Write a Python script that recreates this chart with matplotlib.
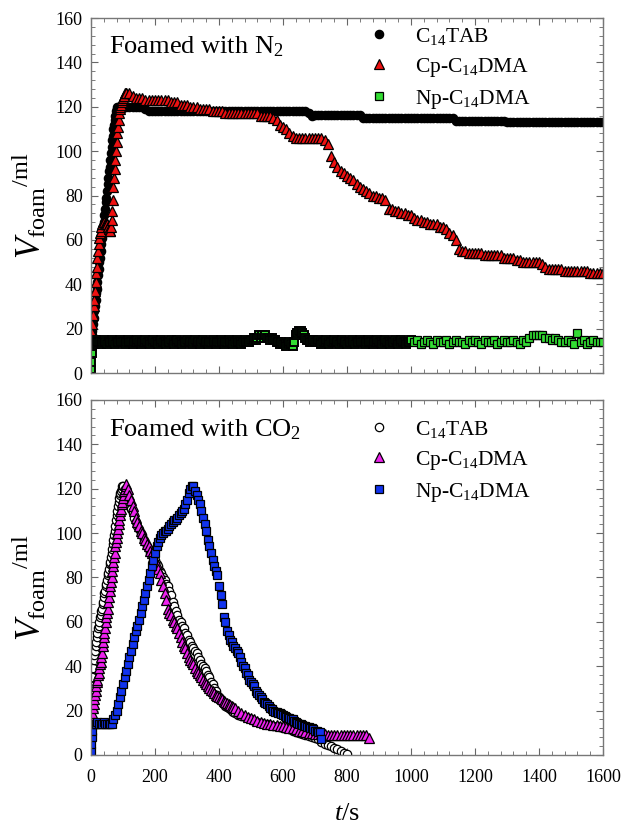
import matplotlib
matplotlib.use('Agg')
import matplotlib.pyplot as plt
import numpy as np

plt.rcParams.update({'font.family': 'Liberation Serif',
                     'mathtext.fontset': 'custom',
                     'mathtext.rm': 'Liberation Serif',
                     'mathtext.it': 'Liberation Serif:italic'})

# ---- Foamed with N2 ----
c14tab_n2_t = np.concatenate([np.arange(0, 90, 2), np.arange(90, 1601, 10)])
c14tab_n2 = ([14, 17, 19, 22, 25, 28, 30, 33, 36, 38,
              41, 44, 47, 50, 52, 55, 58, 61, 64, 66,
              68, 71, 74, 77, 79, 82, 85, 88, 91, 93,
              96, 99, 102, 105, 107, 110, 112, 114, 116, 118,
              119, 120, 120, 120, 120]
             + [120] * 8 + [119] + [118] * 50 + [117, 116]
             + [116.5] * 15
             + [115] * 29
             + [113.5] * 16
             + [113] * 31)

cp_n2_t = np.concatenate([np.arange(0, 110, 2), np.arange(110, 1601, 10)])
cp_n2 = [15, 18, 22, 26, 30, 33, 37, 41, 45, 48,
         52, 55, 58, 61, 63, 64, 66, 67, 68, 68,
         68, 68, 67, 67, 67, 67, 66, 66, 65, 64,
         64, 66, 69, 73, 78, 84, 88, 92, 96, 100,
         104, 108, 111, 114, 117, 119, 120, 121, 122, 123,
         124, 125, 125, 126, 126,
         126, 126, 125, 124, 124, 124, 123, 123, 123,
         123, 123, 123, 123, 123, 122, 122, 122, 121, 121,
         121, 120, 120, 120, 119, 119, 119, 119, 118, 118,
         118, 118, 117, 117, 117, 117, 117, 117, 117, 117,
         117, 117, 117, 116, 116, 116, 116, 115, 114, 112,
         111, 110, 108, 107, 106, 106, 106, 106, 106, 106,
         106, 106, 106, 105, 103, 98, 95, 93, 91, 90,
         89, 88, 87, 85, 84, 83, 82, 81, 80, 80,
         79, 79, 78, 74, 74, 73, 73, 72, 72, 71,
         71, 70, 69, 69, 68, 68, 67, 67, 67, 66,
         66, 65, 63, 62, 60, 56, 55, 55, 54, 54,
         54, 54, 54, 53, 53, 53, 53, 53, 53, 52,
         52, 52, 52, 51, 51, 50, 50, 50, 50, 50,
         50, 49, 48, 47, 47, 47, 47, 47, 46, 46,
         46, 46, 46, 46, 46, 46, 45, 45, 45, 45,
         45]

np_n2_t = np.concatenate([[0, 1, 2, 3], np.arange(5, 1001, 5), np.arange(1010, 1601, 10)])
np_n2 = ([2, 5, 9, 12]
         + [14, 13, 15, 14, 14, 13, 14, 15, 14, 13, 14, 14, 15, 14, 13, 14, 14, 15, 14, 14]
         + [13, 14, 15, 14, 14, 13, 14, 14, 15, 14, 13, 14, 14, 15, 14, 14, 13, 14, 15, 14]
         + [14, 13, 14, 15, 14, 14, 13, 14, 14, 15, 14, 13, 14, 15, 14, 14, 13, 14, 14, 15]
         + [14, 14, 13, 14, 15, 14, 14, 13, 14, 15, 14, 14, 13, 14, 14, 15, 14, 13, 14, 14]
         + [15, 14, 13, 14, 14, 15, 14, 14, 13, 14, 15, 14, 14, 13, 14, 15, 14, 14, 14, 15]
         + [15, 16, 15, 16, 17, 16, 17, 16, 17, 16, 16, 15, 16, 15, 15, 14, 14, 13, 14, 13]
         + [13, 12, 13, 14, 13, 12, 14, 17, 18, 19, 19, 18, 17, 16, 15, 15, 14, 14, 15, 14]
         + [14, 15, 14, 13, 14, 14, 15, 14, 13, 14, 14, 15, 14, 14, 13, 14, 15, 14, 14, 13]
         + [14, 14, 15, 14, 13, 14, 14, 15, 14, 14, 13, 14, 15, 14, 14, 13, 14, 14, 15, 14]
         + [14, 13, 14, 15, 14, 14, 13, 14, 14, 15, 14, 13, 14, 15, 14, 14, 13, 14, 14, 15]
         + [14, 15, 13, 14, 15, 14, 13, 15, 14, 14]
         + [15, 13, 14, 15, 14, 14, 13, 15, 14, 15]
         + [14, 13, 15, 14, 14, 15, 13, 14, 15, 14]
         + [14, 15, 14, 13, 15, 14, 16, 17, 17, 17]
         + [17, 16, 16, 15, 16, 15, 14, 14, 15, 14]
         + [13, 18, 14, 15, 13, 14, 15, 14, 14, 14])
n_dense = 204  # points up to 1000 s (sampled more finely)

# ---- Foamed with CO2 ----
c14tab_co2_t = np.concatenate([np.arange(0, 100, 2), np.arange(100, 451, 5), np.arange(460, 801, 10)])
c14tab_co2 = [26, 31, 35, 39, 43, 45, 47, 49, 51, 53,
              55, 57, 58, 60, 62, 63, 65, 66, 68, 69,
              71, 73, 74, 76, 77, 79, 81, 82, 84, 86,
              87, 89, 91, 93, 95, 97, 99, 101, 103, 106,
              108, 110, 112, 114, 116, 117, 118, 119, 120, 121,
              121, 120, 118, 115, 113, 111, 109, 107, 105, 103,
              102, 100, 99, 97, 96, 94, 93, 91, 90, 89,
              88, 86, 85, 83, 82, 80, 79, 77, 76, 74,
              72, 69, 67, 65, 63, 61, 60, 58, 57, 55,
              54, 52, 51, 49, 48, 47, 46, 44, 43, 41,
              40, 39, 38, 36, 35, 33, 32, 30, 29, 27,
              26, 25, 24, 23, 22, 21.5, 21, 20.5, 20, 19.5,
              19,
              18, 17.5, 17, 16.5, 16, 15.5, 15, 14.5, 14, 14,
              13.5, 13, 13, 12.5, 12, 12, 11.5, 11, 10.5, 10,
              9.5, 9, 8.5, 8, 7.5, 7, 6, 5, 4.5, 4,
              3, 2.5, 2, 1, 0.5]

cp_co2_t = np.concatenate([np.arange(0, 110, 2), np.arange(110, 451, 5), np.arange(460, 871, 10)])
cp_co2 = [14, 17, 19, 21, 23, 25, 27, 29, 31, 33,
          34, 36, 37, 39, 41, 42, 44, 46, 49, 51,
          53, 55, 57, 60, 62, 64, 66, 69, 71, 74,
          76, 78, 80, 83, 85, 87, 89, 91, 94, 96,
          98, 100, 102, 104, 106, 108, 110, 111, 113, 114,
          116, 117, 119, 120, 121,
          122, 120, 117, 115, 112, 110, 107, 105, 103, 101,
          100, 98, 97, 95, 94, 92, 91, 89, 87, 86,
          84, 82, 79, 76, 73, 70, 66, 64, 63, 61,
          60, 58, 57, 55, 53, 51, 49, 48, 46, 44,
          43, 42, 41, 39, 38, 37, 36, 35, 34, 33,
          32, 31, 30, 29.5, 29, 28, 27, 26.5, 26, 25.5,
          25, 24.5, 24, 23.5, 23, 22.5, 22, 21.5,
          21,
          20, 19, 18, 17,
          16.5, 16, 15.5, 15, 14.5, 14, 14, 13.5, 13.5, 13,
          13, 12.5, 12, 12, 11.5, 11, 11, 10.5, 10, 10,
          9.5, 9.5, 9.5, 9.5, 9, 9, 9, 9, 9, 9,
          9, 9, 9, 9, 9, 9, 9, 7.5]

np_co2_t = np.concatenate([[0, 1, 2, 3], np.arange(5, 721, 5)])
np_co2 = [2, 5, 8, 11,
          14, 14, 14, 15, 14, 14, 14, 15, 14, 14, 14, 14, 14, 16,
          18, 20, 23, 26, 29, 32, 35, 38, 41, 44,
          47, 50, 53, 56, 58, 61, 64, 67, 70, 73,
          76, 79, 82, 85, 88, 91, 94, 96, 98, 99,
          100, 101, 101, 102, 103, 104, 105, 106, 106, 107,
          108, 109, 110, 111, 113, 115, 118, 120, 121, 121,
          119, 117, 115, 113, 110, 107, 104, 101, 97, 94,
          91, 88, 85, 83, 81, 76, 72, 68, 62, 60,
          56, 54, 52, 51, 49, 48, 47, 46, 44, 42,
          40, 39, 37, 36, 34, 33, 32, 31, 29, 28,
          27, 26, 25, 24, 23.5, 23, 22, 21, 20.5, 20,
          19.5, 19.5, 19, 19, 18.5, 18, 17.5, 17, 16.5, 16.5,
          16, 16, 15.5, 15, 14.5, 14, 14, 13.5, 13, 13,
          12.5, 12.5, 12, 12, 11.5, 11, 11, 10.5, 10.5, 7]

labels = [r'C$_{14}$TAB', r'Cp-C$_{14}$DMA', r'Np-C$_{14}$DMA']


def style_axes(ax):
    ax.set_xlim(0, 1600)
    ax.set_ylim(0, 160)
    ax.set_xticks(np.arange(0, 1601, 200))
    ax.set_yticks(np.arange(0, 161, 20))
    ax.xaxis.set_minor_locator(matplotlib.ticker.MultipleLocator(40))
    ax.yaxis.set_minor_locator(matplotlib.ticker.MultipleLocator(4))
    ax.tick_params(which='both', direction='in', top=True, right=True,
                   color='#666666', labelsize=13)
    ax.tick_params(which='major', length=5, width=0.8)
    ax.tick_params(which='minor', length=3, width=0.6)
    ax.tick_params(axis='x', pad=10)
    ax.tick_params(axis='y', pad=6)
    for s in ax.spines.values():
        s.set_color('#777777')
        s.set_linewidth(1.0)
    ax.set_ylabel(r'$V_{\mathrm{foam}}{}^{/\mathrm{ml}}$', fontsize=25)
    ax.yaxis.set_label_coords(-0.083, 0.47)


fig = plt.figure(figsize=(6.26, 8.26), dpi=100)
ax1 = fig.add_axes([0.1454, 0.5484, 0.8179, 0.4298])
ax2 = fig.add_axes([0.1454, 0.0860, 0.8179, 0.4298])

kw = dict(linestyle='none', markeredgecolor='black', markeredgewidth=0.9)
ax1.plot(c14tab_n2_t, c14tab_n2, marker='o', markersize=6, color='black', label=labels[0], **kw)
ax1.plot(cp_n2_t, cp_n2, marker='^', markersize=7, color='#ee1111', label=labels[1], **kw)
# finely sampled part first (edges dominate), then the coarser tail
ax1.plot(np_n2_t[:n_dense], np_n2[:n_dense], marker='s', markersize=6, color='#33dd33',
         linestyle='none', markeredgecolor='black', markeredgewidth=1.4)
ax1.plot(np_n2_t[n_dense:], np_n2[n_dense:], marker='s', markersize=6, color='#33dd33',
         label=labels[2], **kw)
style_axes(ax1)
ax1.tick_params(labelbottom=False)
ax1.text(0.035, 0.918, r'Foamed with N$_2$', transform=ax1.transAxes,
         fontsize=19, va='center', ha='left')
ax1.legend(loc='upper left', bbox_to_anchor=(0.541, 0.978), frameon=False,
           fontsize=15.5, handlelength=1.0, handletextpad=1.2,
           labelspacing=0.42, borderpad=0, borderaxespad=0)

ax2.plot(c14tab_co2_t, c14tab_co2, marker='o', markersize=6, color='white', label=labels[0], **kw)
ax2.plot(cp_co2_t, cp_co2, marker='^', markersize=7, color='#ee22ee', label=labels[1], **kw)
ax2.plot(np_co2_t, np_co2, marker='s', markersize=6, color='#1133ee', label=labels[2], **kw)
style_axes(ax2)
ax2.text(0.035, 0.915, r'Foamed with CO$_2$', transform=ax2.transAxes,
         fontsize=19, va='center', ha='left')
ax2.legend(loc='upper left', bbox_to_anchor=(0.541, 0.947), frameon=False,
           fontsize=15.5, handlelength=1.0, handletextpad=1.2,
           labelspacing=0.42, borderpad=0, borderaxespad=0)
ax2.set_xlabel(r'$t$/s', fontsize=19, labelpad=12)

fig.savefig('out.png', dpi=100)
